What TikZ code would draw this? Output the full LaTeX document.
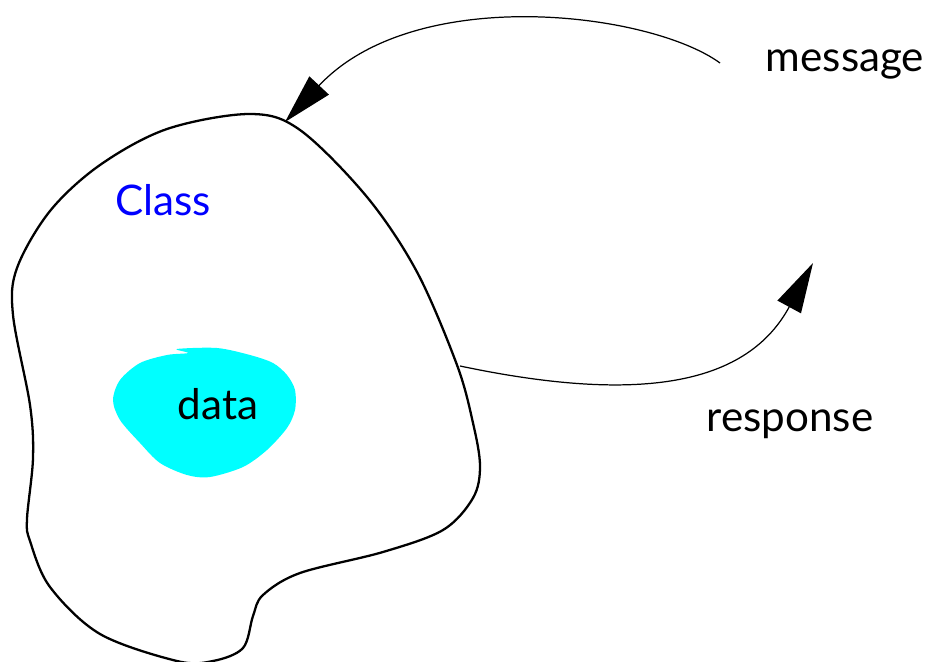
\documentclass[tikz,border=0pt]{standalone}
\usepackage{fontspec}
\setmainfont{Lato}
\usepackage{tikz}
\usetikzlibrary{arrows.meta,positioning}

\definecolor{datafill}{RGB}{0,255,255}

\tikzset{
  label text/.style={font=\fontsize{24}{28}\selectfont, inner sep=0pt},
  call/.style={line width=0.7pt, -{Triangle[length=1cm, width=0.53cm]}},
  classline/.style={line width=1.3pt, line join=round},
}

\begin{document}
\begin{tikzpicture}[x=0.02cm, y=-0.02cm]
    \useasboundingbox (0,0) rectangle (933,662);

    % outline of the class
    \draw[classline] plot[smooth cycle, tension=0.55] coordinates {
      (250,114) (300,130) (367,197) (417,272) (457,365) (473,423) (480,466)
      (473,498) (443,530) (383,552) (300,573) (263,595) (253,616) (243,648)
      (213,661) (177,661) (100,634) (50,587) (30,541) (27,519) (33,458)
      (30,405) (13,315) (17,268) (50,211) (100,165) (167,129)};

    % data blob
    \fill[datafill] plot[smooth cycle, tension=0.5] coordinates {
      (177,349) (217,348) (250,355) (273,363) (287,375) (295,390) (295,410)
      (287,428) (267,450) (243,467) (210,477) (187,475) (160,463) (140,443)
      (120,420) (113,400) (120,380) (140,363) (167,355) (188,353)};

    \node[label text, text=blue] (class) at (163,200) {Class};
    \node[label text] (data) at (218,404) {data};
    \node[label text] (message) at (845,64) {message};
    \node[label text] (response) at (790,424) {response};

    \coordinate (msgout) at (720,63);
    \coordinate (classtop) at (285,122);
    \coordinate (classside) at (460,366);
    \coordinate (respin) at (813,263);

    \draw[call] (msgout) .. controls (650,12) and (415,-17) .. (classtop);
    \draw[call] (classside) .. controls (645,405) and (748,383) .. (respin);
  \end{tikzpicture}
\end{document}
